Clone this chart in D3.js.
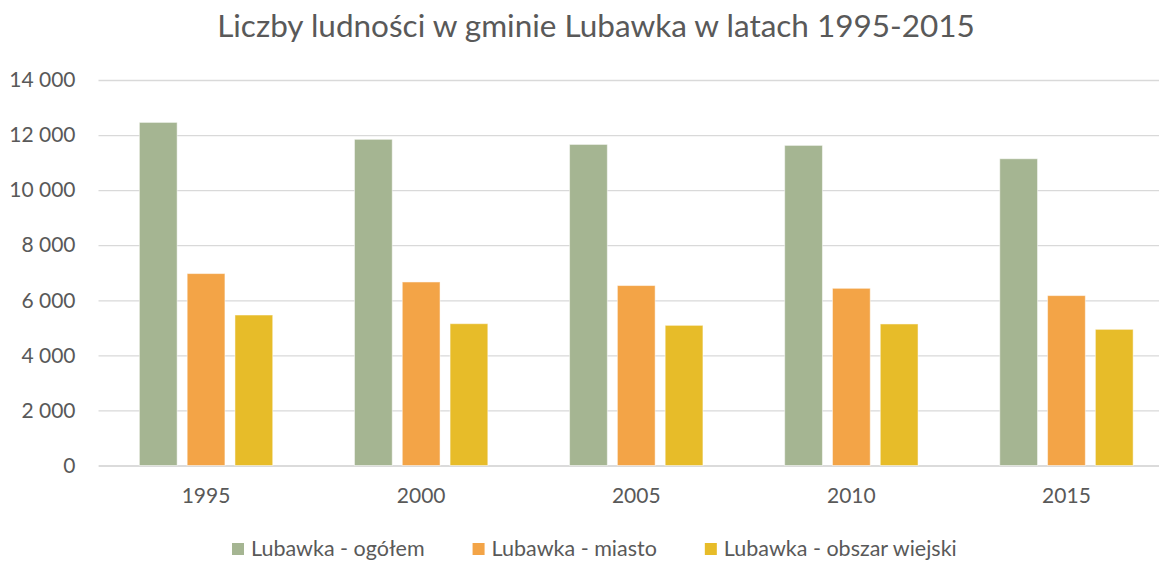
<!DOCTYPE html>
<html>
<head>
<meta charset="utf-8">
<script src="https://cdn.jsdelivr.net/npm/d3@7"></script>
<style>
  body { margin: 0; background: #fff; }
  svg { display: block; }
</style>
</head>
<body>
<div id="chart_div"></div>
<script>
// data
const years = ["1995", "2000", "2005", "2010", "2015"]
const seriesNames = ["Lubawka - ogółem", "Lubawka - miasto", "Lubawka - obszar wiejski"]
const ogolem = [12460, 11845, 11660, 11625, 11140]
const miasto = [6970, 6665, 6535, 6435, 6170]
const wiejski = [5465, 5150, 5090, 5140, 4945]
const yTicks = [0, 2000, 4000, 6000, 8000, 10000, 12000, 14000]
const seriesColors = ["#a5b592", "#f3a447", "#e7bc29"]

const chartFont = "Lato, 'Open Sans', sans-serif"
const textColor = "#595959"

const width = 1159, height = 561
const margin = {top: 80, right: -15, bottom: 96, left: 98.5}

const svg = d3.select("#chart_div")
  .append("svg")
  .attr("width", width)
  .attr("height", height)

// build the table the grouped bars need
const table = years.map((yr, i) => ({
  year: yr,
  values: [ogolem[i], miasto[i], wiejski[i]]
}))

const x0 = d3.scaleBand()
  .domain(years)
  .range([margin.left, width - margin.right])
  .paddingInner(0.38)
  .paddingOuter(0.19)

const x1 = d3.scaleBand()
  .domain(d3.range(seriesNames.length))
  .range([0, x0.bandwidth()])
  .paddingInner(0.21)

const y = d3.scaleLinear()
  .domain([0, 14000])
  .range([height - margin.bottom + 0.5, margin.top])

const plLocale = d3.formatLocale({decimal: ",", thousands: "\u00a0", grouping: [3], currency: ["", " zł"]})
const fmt = plLocale.format(",d")

// title
svg.append("text")
  .attr("x", 596)
  .attr("y", 37)
  .attr("text-anchor", "middle")
  .attr("font-family", chartFont)
  .attr("font-size", 31.5)
  .attr("fill", textColor)
  .text("Liczby ludności w gminie Lubawka w latach 1995-2015")

// gridlines + y labels
const yAxis = svg.append("g")
  .attr("transform", `translate(${margin.left},0)`)
  .call(d3.axisLeft(y)
    .tickValues(yTicks)
    .tickSize(-(width - margin.right - margin.left))
    .tickPadding(23)
    .tickFormat(fmt))
yAxis.select(".domain").remove()
yAxis.selectAll(".tick line")
  .attr("stroke", "#d9d9d9")
  .attr("stroke-width", 1.3)
yAxis.selectAll(".tick text")
  .attr("font-family", chartFont)
  .attr("font-size", 21)
  .attr("fill", textColor)

// x axis
const xAxis = svg.append("g")
  .attr("transform", `translate(0,${y(0)})`)
  .call(d3.axisBottom(x0).tickSize(0).tickPadding(23))
xAxis.select(".domain")
  .attr("stroke", "#d9d9d9")
  .attr("stroke-width", 1.3)
xAxis.selectAll(".tick text")
  .attr("font-family", chartFont)
  .attr("font-size", 21)
  .attr("fill", textColor)

// bars
svg.append("g")
  .selectAll("g")
  .data(table)
  .join("g")
  .attr("transform", d => `translate(${x0(d.year)},0)`)
  .selectAll("rect")
  .data(d => d.values.map((v, i) => ({i: i, v: v})))
  .join("rect")
  .attr("x", d => x1(d.i))
  .attr("y", d => y(d.v))
  .attr("width", x1.bandwidth())
  .attr("height", d => y(0) - y(d.v))
  .attr("fill", d => seriesColors[d.i])
  .attr("stroke", "#ffffff")
  .attr("stroke-opacity", 0.5)
  .attr("stroke-width", 1)

// legend
const legend = svg.append("g")
const items = legend.selectAll("g")
  .data(seriesNames)
  .join("g")
items.append("rect")
  .attr("width", 12)
  .attr("height", 12)
  .attr("y", -13)
  .attr("fill", (d, i) => seriesColors[i])
items.append("text")
  .attr("x", 19)
  .attr("y", 0)
  .attr("font-family", chartFont)
  .attr("font-size", 21.5)
  .attr("fill", textColor)
  .text(d => d)

let lx = 0
items.each(function() {
  const w = this.getBBox().width
  d3.select(this).attr("transform", `translate(${lx},0)`)
  lx += w + 48
})
legend.attr("transform", "translate(232,556)")
</script>
</body>
</html>
